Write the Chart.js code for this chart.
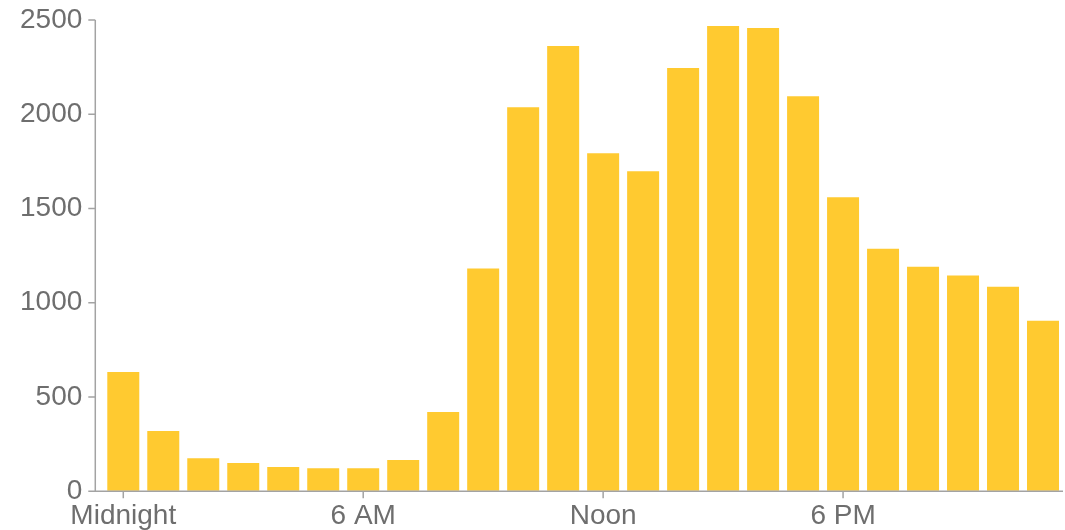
<!DOCTYPE html>
<html>
<head>
<meta charset="utf-8">
<script src="https://cdn.jsdelivr.net/npm/chart.js@4"></script>
<style>
  body { margin: 0; background: #fff; }
  #wrap { width: 1065px; height: 530px; position: relative; }
</style>
</head>
<body>
<div id="wrap"><canvas id="chart-area"></canvas></div>
<script>
// hourly counts, midnight to 11 PM
var hours = ['Midnight', '1 AM', '2 AM', '3 AM', '4 AM', '5 AM', '6 AM', '7 AM', '8 AM', '9 AM', '10 AM', '11 AM',
             'Noon', '1 PM', '2 PM', '3 PM', '4 PM', '5 PM', '6 PM', '7 PM', '8 PM', '9 PM', '10 PM', '11 PM'];
var counts = [633, 319, 175, 149, 128, 122, 122, 165, 420, 1181, 2037, 2362,
              1793, 1697, 2245, 2468, 2457, 2096, 1559, 1287, 1191, 1144, 1085, 904];
var shownLabels = ['Midnight', '6 AM', 'Noon', '6 PM'];
var yTicks = [0, 500, 1000, 1500, 2000, 2500];

var axisColor = '#a3a3a3';
var textColor = '#6e6e6e';

// axis lines sit a few px left of the first category
var axesPlugin = {
    id: 'axes',
    afterDraw: function(chart) {
        var ctx = chart.ctx;
        var area = chart.chartArea;
        var x = chart.scales.x, y = chart.scales.y;
        var ax = area.left - 8;
        ctx.save();
        ctx.strokeStyle = axisColor;
        ctx.lineWidth = 1.5;
        ctx.beginPath();
        ctx.moveTo(ax, y.getPixelForValue(2500));
        ctx.lineTo(ax, area.bottom);
        ctx.lineTo(area.right, area.bottom);
        yTicks.forEach(function(v) {
            var py = y.getPixelForValue(v);
            ctx.moveTo(ax - 7, py);
            ctx.lineTo(ax, py);
        });
        hours.forEach(function(h, i) {
            if (shownLabels.indexOf(h) < 0) return;
            var px = x.getPixelForValue(i);
            ctx.moveTo(px, area.bottom);
            ctx.lineTo(px, area.bottom + 7);
        });
        ctx.stroke();
        ctx.restore();
    }
};

var config = {
    type: 'bar',
    data: {
        labels: hours,
        datasets: [{
            data: counts,
            backgroundColor: '#ffca30',
            borderWidth: 0,
            barPercentage: 0.8,
            categoryPercentage: 1.0
        }]
    },
    options: {
        responsive: true,
        maintainAspectRatio: false,
        animation: false,
        layout: {
            padding: { left: 20, right: 2, top: 20, bottom: -12 }
        },
        plugins: {
            legend: { display: false },
            tooltip: { enabled: false }
        },
        scales: {
            x: {
                grid: { display: false, drawTicks: false },
                border: { display: false },
                ticks: {
                    autoSkip: false,
                    maxRotation: 0,
                    padding: 10,
                    color: textColor,
                    font: { family: 'Liberation Sans', size: 28, lineHeight: 1.1 },
                    callback: function(v, i) {
                        return shownLabels.indexOf(hours[i]) >= 0 ? hours[i] : '';
                    }
                }
            },
            y: {
                min: 0,
                max: 2500,
                grid: { display: true, drawOnChartArea: false, drawTicks: true, tickLength: 21, color: 'rgba(0,0,0,0)' },
                border: { display: false },
                afterBuildTicks: function(axis) {
                    axis.ticks = yTicks.map(function(v) { return { value: v }; });
                },
                ticks: {
                    padding: 0,
                    color: textColor,
                    font: { family: 'Liberation Sans', size: 28 },
                    callback: function(v) { return String(v); }
                }
            }
        }
    },
    plugins: [axesPlugin]
};

var ctx = document.getElementById('chart-area').getContext('2d');
window.myBar = new Chart(ctx, config);
</script>
</body>
</html>
